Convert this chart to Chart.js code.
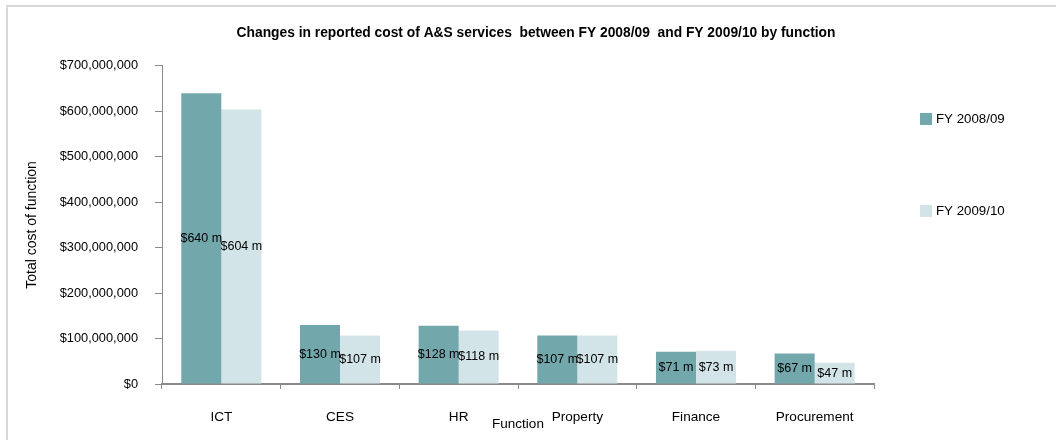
<!DOCTYPE html>
<html>
<head>
<meta charset="utf-8">
<title>Cost of A&amp;S services by function</title>
<script src="https://cdn.jsdelivr.net/npm/chart.js@4/dist/chart.umd.min.js"></script>
<style>
    html, body { margin: 0; padding: 0; background: #fff; }
    #wrap { position: relative; width: 1056px; height: 440px; }
    #frame {
        position: absolute; left: 6px; top: 5px; right: 0; bottom: 0;
        border-top: 2px solid #d9d9d9; border-left: 2px solid #d9d9d9;
    }
    #chart { position: absolute; left: 0; top: 0; }
</style>
</head>
<body>
<div id="wrap">
    <div id="frame"></div>
    <canvas id="chart" width="1056" height="440"></canvas>
</div>
<script>
const functions = ['ICT', 'CES', 'HR', 'Property', 'Finance', 'Procurement'];
const seriesNames = ['FY 2008/09', 'FY 2009/10'];
const cost0809 = [640000000, 130000000, 128000000, 107000000, 71000000, 67000000];
const cost0910 = [604000000, 107000000, 118000000, 107000000, 73000000, 47000000];
const yTicks = [0, 100000000, 200000000, 300000000, 400000000, 500000000, 600000000, 700000000];

const FONT = 'Liberation Sans, Arial, sans-serif';
const AXIS_GREY = '#8a8a8a';

// "$640 m" labels in the middle of each bar
const barLabels = {
    id: 'barLabels',
    afterDatasetsDraw(chart) {
        const ctx = chart.ctx;
        ctx.save();
        ctx.font = '12.5px ' + FONT;
        ctx.fillStyle = '#000';
        ctx.textAlign = 'center';
        ctx.textBaseline = 'middle';
        chart.data.datasets.forEach((ds, i) => {
            chart.getDatasetMeta(i).data.forEach((bar, j) => {
                const v = ds.data[j] / 1000000;
                ctx.fillText('$' + v + ' m', bar.x, (bar.y + bar.base) / 2);
            });
        });
        ctx.restore();
    }
};

// legend sitting to the right of the plot, one entry well below the other
const sideLegend = {
    id: 'sideLegend',
    afterDraw(chart) {
        const ctx = chart.ctx;
        const area = chart.chartArea;
        ctx.save();
        ctx.font = '13.3px ' + FONT;
        ctx.textBaseline = 'middle';
        chart.data.datasets.forEach((ds, i) => {
            const x = area.right + 46;
            const y = area.top + 47 + i * 92;
            ctx.fillStyle = ds.backgroundColor;
            ctx.fillRect(x, y, 12, 12);
            ctx.fillStyle = '#000';
            ctx.fillText(ds.label, x + 16, y + 6.5);
        });
        ctx.restore();
    }
};

new Chart(document.getElementById('chart').getContext('2d'), {
    type: 'bar',
    data: {
        labels: functions,
        datasets: [
            { label: seriesNames[0], data: cost0809, backgroundColor: 'rgb(114, 167, 172)' },
            { label: seriesNames[1], data: cost0910, backgroundColor: 'rgb(211, 228, 232)' }
        ]
    },
    options: {
        responsive: false,
        animation: false,
        devicePixelRatio: 1,
        categoryPercentage: 0.675,
        barPercentage: 1.0,
        layout: { padding: { left: 16, right: 0, top: 0, bottom: 8 } },
        plugins: {
            legend: { display: false },
            tooltip: { enabled: false },
            title: {
                display: true,
                text: 'Changes in reported cost of A&S services  between FY 2008/09  and FY 2009/10 by function',
                color: '#000',
                font: { family: FONT, size: 13.8, weight: 'bold' },
                padding: { top: 25, bottom: 24.4 }
            }
        },
        scales: {
            x: {
                grid: { drawOnChartArea: false, drawTicks: true, tickLength: 5, color: AXIS_GREY },
                border: { display: true, color: AXIS_GREY, width: 2 },
                ticks: { color: '#000', padding: 20, font: { family: FONT, size: 13.6 } },
                title: {
                    display: true, text: 'Function', color: '#000',
                    font: { family: FONT, size: 13.5 }, padding: { top: 0, bottom: 0 }
                },
                afterFit(scale) { scale.height = 48; }
            },
            y: {
                min: 0,
                max: 700000000,
                afterBuildTicks(scale) { scale.ticks = yTicks.map(v => ({ value: v })); },
                grid: { drawOnChartArea: false, drawTicks: true, tickLength: 7, color: AXIS_GREY },
                border: { display: true, color: AXIS_GREY, width: 1 },
                ticks: {
                    color: '#000', padding: 17, font: { family: FONT, size: 12.8 },
                    callback: v => '$' + Number(v).toLocaleString('en-US')
                },
                title: {
                    display: true, text: 'Total cost of function', color: '#000',
                    font: { family: FONT, size: 14 }, padding: { top: 8, bottom: 0 }
                },
                afterFit(scale) { scale.width = 146; }
            },
            // empty axis on the right that keeps room for the legend
            legendSpace: {
                position: 'right',
                display: true,
                grid: { display: false },
                border: { display: false },
                ticks: { display: false },
                afterFit(scale) { scale.width = 182; }
            }
        }
    },
    plugins: [barLabels, sideLegend]
});
</script>
</body>
</html>
